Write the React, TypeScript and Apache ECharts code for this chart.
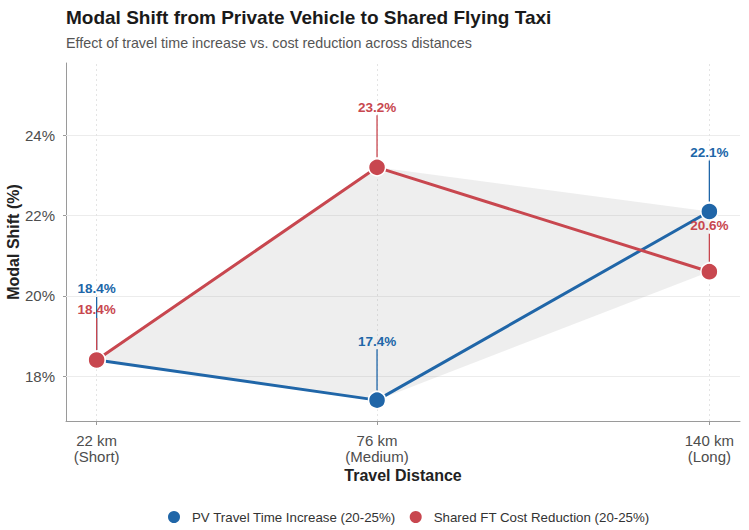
import React, { useEffect, useRef } from "react";
import * as echarts from "echarts";

// Travel distances (km) and their short descriptors
const distances = [22, 76, 140];
const distanceNames = ["Short", "Medium", "Long"];

// Modal shift (%) for each scenario
const pvTimeIncrease = [18.4, 17.4, 22.1];
const ftCostReduction = [18.4, 23.2, 20.6];

// Axis tick values
const yTicks = [18, 20, 22, 24];

const BLUE = "#2066a8";
const RED = "#c8474f";
const FONT = '"Liberation Sans", Arial, sans-serif';

// Vertical pixel offsets of the value labels above each point
const labelShift: Record<string, number[]> = {
  pv: [-71, -59, -59],
  ft: [-50, -60, -46],
};

function labelSeries(key: string, values: number[], color: string, z: number) {
  return {
    type: "custom",
    z,
    silent: true,
    data: distances.map((d, i) => [d, values[i]]),
    renderItem: (params: any, api: any) => {
      const x = api.value(0);
      const y = api.value(1);
      const p = api.coord([x, y]);
      const dy = labelShift[key][params.dataIndex];
      return {
        type: "group",
        children: [
          {
            type: "line",
            shape: { x1: p[0], y1: p[1] - 10, x2: p[0], y2: p[1] + dy + 8 },
            style: { stroke: color, lineWidth: 1.3 },
          },
          {
            type: "text",
            x: p[0],
            y: p[1] + dy,
            style: {
              text: y.toFixed(1) + "%",
              fill: color,
              font: `bold 13.5px ${FONT}`,
              align: "center",
              verticalAlign: "middle",
            },
          },
        ],
      };
    },
  };
}

export default function App() {
  const ref = useRef<HTMLDivElement>(null);

  useEffect(() => {
    if (!ref.current) return;
    const chart = echarts.init(ref.current, undefined, { renderer: "svg" });

    const lineSeries = (name: string, values: number[], color: string, z: number) => ({
      name,
      type: "line",
      z,
      data: distances.map((d, i) => [d, values[i]]),
      symbol: "circle",
      symbolSize: 17,
      lineStyle: { color, width: 3 },
      itemStyle: { color, borderColor: "#ffffff", borderWidth: 1.5 },
      emphasis: { disabled: true },
    });

    chart.setOption({
      animation: false,
      backgroundColor: "#ffffff",
      title: [
        {
          text: "Modal Shift from Private Vehicle to Shared Flying Taxi",
          left: 66,
          top: 8,
          padding: 0,
          textStyle: { fontFamily: FONT, fontSize: 19, fontWeight: "bold", color: "#1a1a1a" },
        },
        {
          text: "Effect of travel time increase vs. cost reduction across distances",
          left: 66,
          top: 36,
          padding: 0,
          textStyle: { fontFamily: FONT, fontSize: 14.3, fontWeight: "normal", color: "#555555" },
        },
      ],
      legend: {
        top: 509,
        left: 166,
        padding: 0,
        icon: "circle",
        itemWidth: 14,
        itemHeight: 14,
        itemGap: 12,
        textStyle: { fontFamily: FONT, fontSize: 13.3, color: "#333333", padding: [0, 0, 0, 6] },
        data: ["PV Travel Time Increase (20-25%)", "Shared FT Cost Reduction (20-25%)"],
      },
      grid: { left: 66, right: 9, top: 63, bottom: 109, containLabel: false, outerBoundsMode: "none" },
      xAxis: {
        type: "value",
        min: 16.1,
        max: 145.9,
        name: "Travel Distance",
        nameLocation: "middle",
        nameGap: 46,
        nameMoveOverlap: false,
        nameTextStyle: { fontFamily: FONT, fontSize: 16, fontWeight: "bold", color: "#222222" },
        axisLine: { show: true, lineStyle: { color: "#9a9a9a", width: 1 } },
        axisTick: { show: true, customValues: distances, length: 4, lineStyle: { color: "#9a9a9a" } },
        axisLabel: {
          customValues: distances,
          margin: 11,
          fontFamily: FONT,
          fontSize: 15,
          lineHeight: 16,
          color: "#4d4d4d",
          formatter: (v: number) => {
            const i = distances.indexOf(v);
            return i >= 0 ? `${v} km\n(${distanceNames[i]})` : "";
          },
        },
        splitLine: { show: false },
      },
      yAxis: {
        type: "value",
        min: 16.88,
        max: 25.8,
        name: "Modal Shift (%)",
        nameLocation: "middle",
        nameGap: 45,
        nameMoveOverlap: false,
        nameTextStyle: { fontFamily: FONT, fontSize: 16, fontWeight: "bold", color: "#222222" },
        axisLine: { show: true, lineStyle: { color: "#9a9a9a", width: 1 } },
        axisTick: { show: true, customValues: yTicks, length: 3, lineStyle: { color: "#9a9a9a" } },
        axisLabel: {
          customValues: yTicks,
          margin: 11,
          fontFamily: FONT,
          fontSize: 15,
          color: "#4d4d4d",
          formatter: (v: number) => `${v}%`,
        },
        splitLine: { show: false },
      },
      series: [
        // grid lines
        {
          type: "line",
          data: [],
          silent: true,
          z: 1,
          markLine: {
            silent: true,
            z: 1,
            symbol: "none",
            label: { show: false },
            emphasis: { disabled: true },
            data: [
              ...yTicks.map((t) => ({ yAxis: t, lineStyle: { color: "#ececec", width: 1, type: "solid" } })),
              ...distances.map((d) => ({ xAxis: d, lineStyle: { color: "#e4e4e4", width: 1, type: [2, 3] } })),
            ],
          },
        },
        // band between the two scenarios
        {
          type: "custom",
          z: 2,
          silent: true,
          data: [[distances[0], pvTimeIncrease[0]]],
          renderItem: (_p: any, api: any) => {
            const upper = distances.map((d, i) => api.coord([d, Math.max(pvTimeIncrease[i], ftCostReduction[i])]));
            const lower = distances
              .map((d, i) => api.coord([d, Math.min(pvTimeIncrease[i], ftCostReduction[i])]))
              .reverse();
            return {
              type: "polygon",
              shape: { points: [...upper, ...lower] },
              style: { fill: "rgba(170,170,170,0.2)" },
            };
          },
        },
        lineSeries("PV Travel Time Increase (20-25%)", pvTimeIncrease, BLUE, 3),
        lineSeries("Shared FT Cost Reduction (20-25%)", ftCostReduction, RED, 4),
        labelSeries("pv", pvTimeIncrease, BLUE, 5),
        labelSeries("ft", ftCostReduction, RED, 6),
      ],
    });

    return () => chart.dispose();
  }, []);

  return <div ref={ref} style={{ width: 749, height: 530, position: "absolute", left: 0, top: 0 }} />;
}
